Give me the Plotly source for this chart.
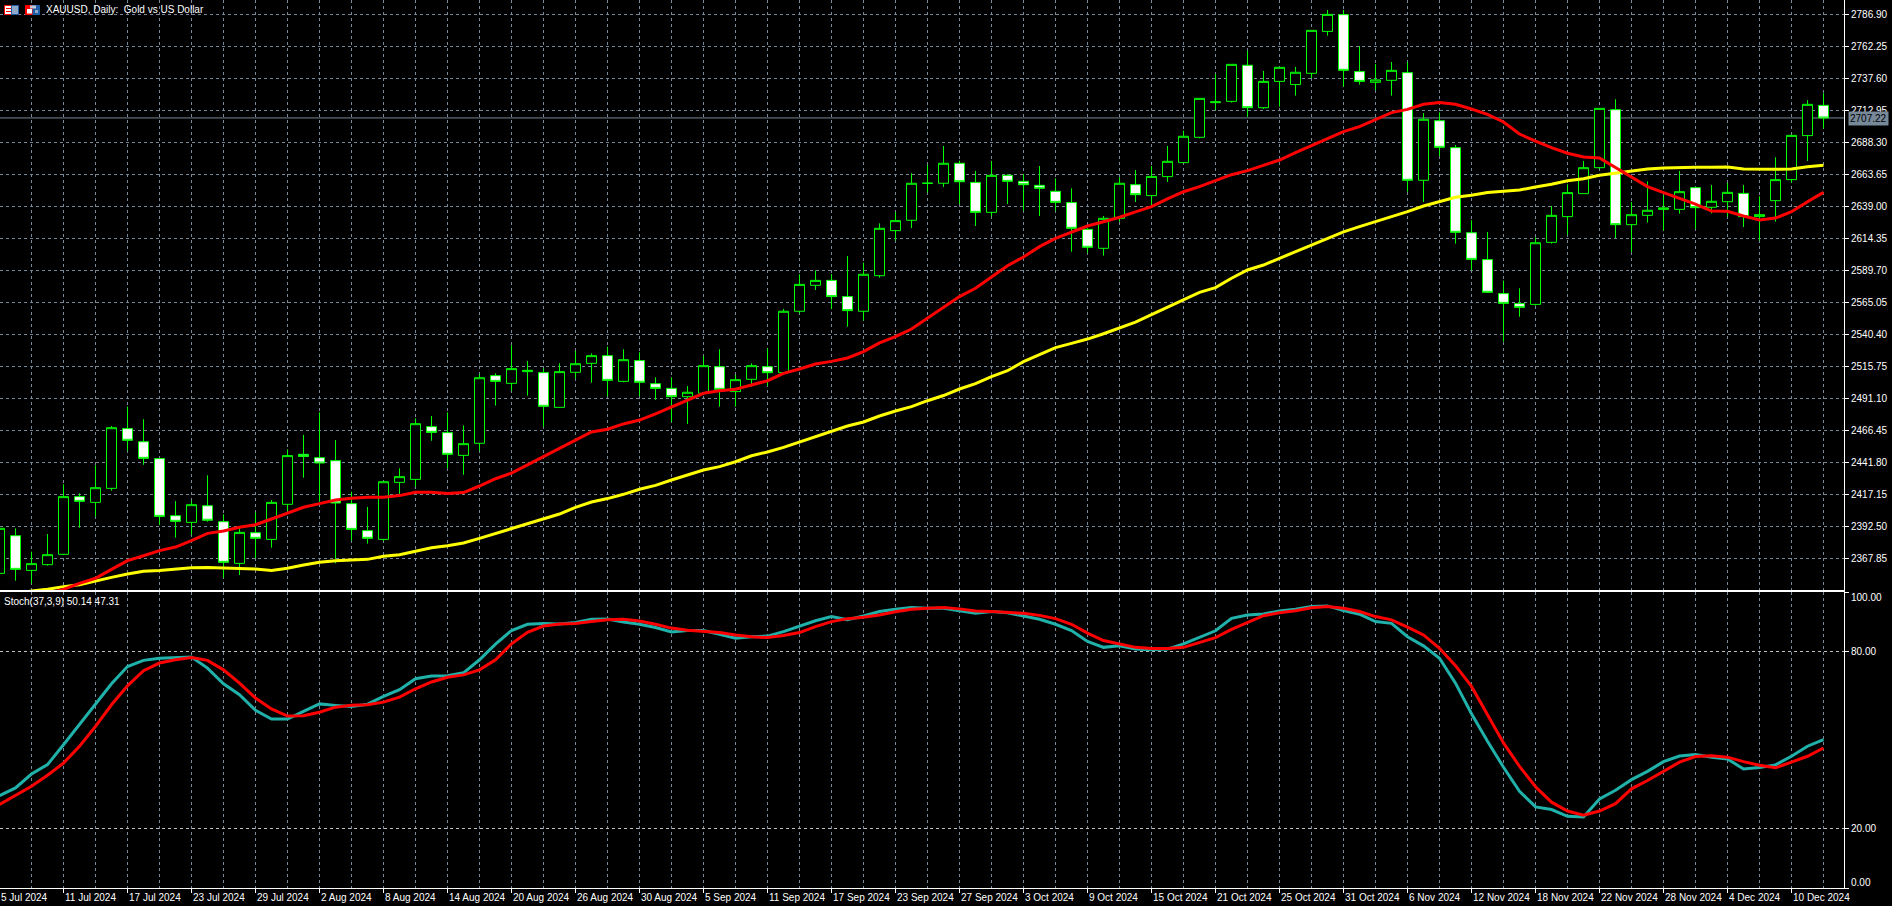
import plotly.graph_objects as go

index = list(range(115))
opens = [2356.4,2385.4,2358.7,2363.1,2371.1,2415.5,2411.1,2421.9,2467.9,2457.8,2444.8,2400.8,2395.7,2408.5,2396.2,2364.1,2387.7,2382.6,2409.6,2448.1,
 2445.5,2443.2,2410.1,2389.3,2382.6,2426.5,2428.8,2469.4,2464.8,2447.3,2456.6,2508.7,2502.8,2511.8,2511.0,2484.3,2511.3,2518.2,2524.1,2504.3,
 2520.3,2502.5,2498.9,2492.5,2495.1,2515.6,2496.4,2505.9,2515.6,2511.0,2558.3,2578.3,2582.1,2569.6,2558.3,2585.7,2620.4,2628.4,2656.7,2656.9,
 2672.3,2657.6,2634.5,2663.0,2658.4,2655.3,2650.7,2642.0,2621.4,2606.8,2629.9,2655.8,2647.4,2662.0,2672.8,2692.3,2719.0,2720.0,2747.8,2715.1,
 2735.4,2732.9,2741.6,2773.9,2786.8,2742.9,2734.7,2736.2,2742.1,2659.2,2705.1,2684.3,2618.8,2598.1,2571.9,2564.2,2563.6,2611.4,2631.2,2648.9,
 2668.9,2713.6,2625.0,2632.2,2636.8,2636.8,2653.5,2638.4,2642.7,2649.1,2631.2,2643.5,2659.7,2693.6,2716.9]
highs = [2392.4,2391.1,2373.1,2386.7,2425.0,2418.0,2439.6,2469.9,2484.8,2475.1,2444.8,2412.1,2412.1,2431.9,2401.9,2391.1,2403.4,2412.9,2451.9,2463.0,
 2480.4,2459.1,2419.3,2407.5,2427.0,2437.3,2475.8,2477.6,2480.4,2470.4,2509.7,2510.5,2532.1,2520.0,2514.3,2518.2,2527.7,2525.9,2531.0,2529.0,
 2526.7,2507.4,2507.4,2500.7,2523.8,2529.0,2509.2,2518.2,2529.8,2560.1,2586.8,2589.8,2587.0,2600.9,2595.7,2626.0,2634.5,2664.6,2671.0,2685.6,
 2674.3,2666.4,2674.1,2663.8,2664.0,2670.2,2660.7,2653.0,2622.2,2631.7,2661.5,2667.1,2670.2,2685.6,2697.4,2722.3,2741.1,2748.5,2758.8,2743.4,
 2746.2,2746.5,2774.7,2790.4,2790.4,2762.6,2748.8,2750.3,2750.3,2711.0,2711.5,2686.4,2628.4,2619.4,2581.9,2576.0,2615.3,2639.4,2656.1,2674.1,
 2714.6,2721.6,2642.5,2658.4,2647.9,2666.4,2654.3,2655.6,2657.1,2655.6,2646.8,2676.9,2693.8,2721.0,2726.2]
lows = [2355.9,2350.8,2348.7,2362.3,2370.5,2391.6,2400.1,2420.1,2450.9,2440.1,2393.7,2383.9,2386.2,2396.2,2353.1,2355.1,2368.0,2376.2,2404.4,2430.1,
 2411.6,2364.1,2381.6,2379.3,2381.3,2417.5,2423.2,2458.6,2437.3,2432.4,2450.9,2485.6,2497.1,2493.3,2469.4,2484.3,2506.6,2503.3,2492.8,2503.6,
 2493.0,2490.0,2473.0,2471.5,2493.8,2484.8,2484.8,2500.2,2501.0,2510.5,2556.7,2574.7,2560.1,2546.4,2551.1,2584.2,2612.7,2622.4,2649.7,2654.0,
 2640.9,2624.0,2631.4,2640.9,2635.8,2631.7,2635.8,2604.2,2603.4,2601.1,2627.3,2642.5,2639.4,2657.9,2672.8,2691.5,2713.3,2719.0,2708.2,2714.1,
 2715.9,2724.4,2737.7,2770.6,2731.3,2732.9,2728.7,2724.4,2650.4,2642.5,2677.9,2610.4,2589.8,2572.9,2534.9,2554.1,2562.6,2610.4,2617.3,2648.9,
 2667.9,2614.7,2604.0,2626.6,2620.4,2633.5,2621.9,2633.7,2631.2,2623.2,2612.7,2627.3,2657.4,2674.1,2699.0]
closes = [2391.1,2359.5,2363.9,2370.8,2415.5,2411.9,2422.4,2468.6,2458.9,2445.0,2400.3,2396.5,2409.3,2397.3,2364.9,2388.0,2383.4,2411.1,2447.1,2446.5,
 2441.4,2410.6,2390.3,2383.4,2427.0,2430.9,2471.7,2465.0,2448.1,2456.3,2507.1,2504.3,2514.1,2512.8,2485.1,2511.8,2517.9,2524.1,2505.1,2521.0,
 2503.6,2498.9,2492.5,2495.9,2516.4,2498.2,2505.6,2516.4,2511.0,2558.3,2579.0,2582.1,2569.6,2558.8,2586.8,2622.2,2628.1,2656.9,2657.0,2672.3,
 2658.1,2634.5,2663.0,2658.4,2655.8,2653.0,2642.2,2622.2,2607.6,2629.9,2656.9,2648.1,2662.2,2673.8,2693.1,2722.3,2719.6,2748.5,2715.1,2735.4,
 2746.2,2742.4,2774.7,2787.0,2743.9,2735.4,2736.5,2743.9,2659.2,2706.2,2684.6,2619.1,2598.3,2572.9,2564.4,2561.3,2611.1,2632.2,2649.7,2668.9,
 2714.6,2625.0,2632.7,2636.1,2637.9,2650.4,2638.1,2643.0,2649.9,2631.2,2632.7,2659.7,2693.8,2717.7,2707.2]

ma_fast = [2325.0,2330.0,2335.0,2341.0,2344.1,2348.7,2352.6,2359.5,2366.2,2370.0,2373.9,2376.7,2381.6,2387.2,2389.0,2391.9,2393.9,2398.3,2402.6,2407.3,
 2410.1,2412.9,2414.2,2415.0,2415.0,2416.3,2418.8,2418.8,2418.0,2418.6,2423.7,2429.3,2433.7,2440.1,2446.8,2452.7,2459.1,2465.3,2467.4,2471.5,
 2474.5,2479.2,2484.3,2489.9,2495.1,2497.1,2498.2,2501.5,2504.8,2510.5,2513.8,2517.7,2519.7,2522.3,2527.2,2533.9,2538.7,2544.6,2552.9,2561.6,
 2569.6,2576.0,2584.4,2593.4,2600.1,2608.1,2614.5,2619.1,2624.0,2627.3,2630.7,2634.8,2638.9,2644.8,2650.4,2654.3,2658.9,2663.5,2666.6,2670.5,
 2674.8,2680.5,2685.9,2691.8,2696.7,2700.5,2706.2,2711.3,2713.8,2717.7,2719.2,2717.7,2714.1,2710.0,2704.1,2694.8,2689.4,2684.3,2680.0,2677.1,
 2676.4,2669.2,2661.5,2654.3,2649.7,2645.6,2640.9,2635.5,2635.3,2631.7,2628.6,2630.1,2635.0,2642.7,2649.9]
ma_slow = [2338.4,2340.5,2342.8,2344.1,2346.2,2347.7,2350.8,2353.3,2355.9,2358.0,2358.7,2359.8,2360.8,2361.0,2360.5,2360.5,2359.8,2358.7,2360.3,2362.8,
 2364.9,2366.2,2366.7,2367.2,2369.5,2370.8,2373.4,2376.2,2377.7,2379.8,2383.4,2387.2,2390.6,2394.9,2398.8,2402.1,2407.3,2411.4,2414.0,2417.3,
 2421.2,2424.2,2428.3,2432.2,2436.0,2438.6,2442.4,2447.0,2449.9,2453.5,2457.6,2462.2,2466.1,2469.9,2473.0,2477.6,2481.5,2484.8,2489.4,2493.4,
 2498.4,2502.5,2507.9,2512.5,2519.5,2525.1,2530.3,2533.6,2536.9,2541.0,2545.4,2550.0,2555.7,2561.3,2567.0,2572.9,2576.5,2583.7,2590.1,2593.9,
 2599.1,2604.2,2609.3,2614.5,2619.4,2623.5,2627.3,2631.7,2635.0,2639.4,2642.7,2646.1,2647.6,2649.7,2650.7,2651.7,2654.0,2656.1,2658.9,2660.4,
 2663.0,2664.8,2666.6,2667.9,2668.7,2669.2,2669.2,2669.2,2669.4,2667.9,2667.6,2667.6,2667.9,2669.7,2670.7]
stoch_main = [31.2,33.8,38.5,41.7,48.4,55.2,61.9,69.0,74.8,76.9,77.6,77.9,78.0,74.3,69.0,65.3,60.0,57.1,57.1,59.7,
 62.2,61.7,61.3,62.1,64.7,67.0,70.7,71.6,71.7,72.7,77.1,82.4,87.0,89.1,89.4,89.2,89.7,90.8,90.9,89.9,
 89.1,88.0,86.5,87.0,87.0,85.7,84.4,84.9,85.1,86.6,88.5,90.3,91.7,90.6,91.9,93.4,94.2,94.8,94.5,94.5,
 93.7,92.8,93.4,93.0,91.9,90.8,89.1,87.0,83.3,81.3,81.8,80.7,80.5,80.7,82.5,84.6,86.9,91.1,92.2,92.6,
 93.6,94.2,95.1,95.3,93.7,92.5,90.0,89.4,84.9,81.8,77.6,69.2,58.9,49.6,40.8,32.7,27.4,26.5,24.2,24.0,
 30.1,33.0,36.6,39.4,42.7,44.6,45.1,44.2,43.6,40.2,40.7,41.6,44.5,47.9,50.14]
stoch_signal = [28.2,31.3,34.4,38.1,42.2,47.9,54.6,61.9,68.3,73.4,76.0,77.1,77.9,76.9,73.7,69.2,64.2,60.5,58.1,58.2,
 59.4,61.1,61.7,61.9,62.8,64.5,67.3,69.6,71.2,72.0,73.7,77.1,82.5,86.4,88.5,89.2,89.4,90.0,90.6,90.8,
 90.2,89.1,87.8,87.1,86.7,86.3,85.5,84.9,84.6,85.3,86.3,88.3,90.0,91.0,91.5,92.2,93.3,94.2,94.5,94.8,
 94.3,93.6,93.4,93.1,92.8,92.1,91.0,89.1,86.1,83.6,82.5,81.3,80.9,80.9,81.3,83.0,84.6,87.4,89.8,92.0,
 93.0,93.7,94.7,95.1,94.5,93.4,91.7,90.6,88.1,85.5,81.0,75.1,68.1,58.5,49.0,41.1,34.2,29.0,26.0,24.6,
 26.0,28.5,33.5,36.3,39.4,42.5,44.4,44.7,44.2,42.7,41.5,40.6,42.5,44.5,47.31]

date_ticks = list(range(0, 115, 4))
date_labels = ["5 Jul 2024","11 Jul 2024","17 Jul 2024","23 Jul 2024","29 Jul 2024","2 Aug 2024","8 Aug 2024","14 Aug 2024",
 "20 Aug 2024","26 Aug 2024","30 Aug 2024","5 Sep 2024","11 Sep 2024","17 Sep 2024","23 Sep 2024","27 Sep 2024","3 Oct 2024",
 "9 Oct 2024","15 Oct 2024","21 Oct 2024","25 Oct 2024","31 Oct 2024","6 Nov 2024","12 Nov 2024","18 Nov 2024","22 Nov 2024",
 "28 Nov 2024","4 Dec 2024","10 Dec 2024"]
price_ticks = [2367.85,2392.50,2417.15,2441.80,2466.45,2491.10,2515.75,2540.40,2565.05,2589.70,2614.35,2639.00,2663.65,2688.30,2712.95,2737.60,2762.25,2786.90]
stoch_ticks = [0, 20, 80, 100]
last_price = 2707.22

W, H, L_AXIS, B = 1892, 906, 1844, 888
SLATE = "#778899"
LIME = "#00FF00"
FONT = "Liberation Sans"
TXT = dict(family=FONT, size=10, color="white")

def fx(px):
    return px / L_AXIS

def fy(px):
    return 1 - px / B

fig = go.Figure()
fig.add_trace(go.Candlestick(
    x=index, open=opens, high=highs, low=lows, close=closes, whiskerwidth=0,
    increasing=dict(line=dict(color=LIME, width=1), fillcolor="black"),
    decreasing=dict(line=dict(color=LIME, width=1), fillcolor="white"),
    xaxis="x", yaxis="y", showlegend=False))
fig.add_trace(go.Scatter(x=index, y=ma_slow, mode="lines", line=dict(color="#FFFF00", width=3), xaxis="x", yaxis="y", showlegend=False))
fig.add_trace(go.Scatter(x=index, y=ma_fast, mode="lines", line=dict(color="#FF0000", width=3), xaxis="x", yaxis="y", showlegend=False))
fig.add_trace(go.Scatter(x=index, y=stoch_main, mode="lines", line=dict(color="#20B2AA", width=3), xaxis="x2", yaxis="y2", showlegend=False))
fig.add_trace(go.Scatter(x=index, y=stoch_signal, mode="lines", line=dict(color="#FF0000", width=3), xaxis="x2", yaxis="y2", showlegend=False))

x_range = [0.03125, 115.28125]
grid = dict(showgrid=True, gridcolor=SLATE, gridwidth=1, griddash="3px,3px", zeroline=False)
even = list(range(0, 116, 2))
mid = [v for v in even if v % 4]

annotations = [
    dict(xref="paper", yref="paper", x=fx(45), y=fy(9.5), text="XAUUSD, Daily:  Gold vs US Dollar", showarrow=False,
         xanchor="left", yanchor="middle", font=TXT, borderpad=0),
    dict(xref="paper", yref="paper", x=fx(3), y=fy(601.5), text="Stoch(37,3,9) 50.14 47.31", showarrow=False,
         xanchor="left", yanchor="middle", font=TXT, borderpad=0),
    dict(xref="paper", yref="paper", x=fx(1848), y=fy(118.5), text="%.2f" % last_price, showarrow=False, xanchor="left",
         yanchor="middle", bgcolor=SLATE, font=dict(family=FONT, size=10, color="black"), borderpad=1),
    dict(xref="paper", yref="y2", x=fx(1850), y=100, yshift=-5, text="100.00", showarrow=False, xanchor="left",
         yanchor="middle", font=TXT, borderpad=0),
    dict(xref="paper", yref="y2", x=fx(1850), y=0, yshift=6, text="0.00", showarrow=False, xanchor="left",
         yanchor="middle", font=TXT, borderpad=0),
]
for i, label in zip(date_ticks, date_labels):
    annotations.append(dict(xref="paper" if i == 0 else "x2", yref="paper", x=0 if i == 0 else i, y=0, yshift=-3,
                            text=label, showarrow=False, xanchor="left", yanchor="top", font=TXT, borderpad=0))

def rect(x0, y0, x1, y1, color, line=None):
    return dict(type="rect", xref="paper", yref="paper", x0=fx(x0), x1=fx(x1), y0=fy(y0), y1=fy(y1), fillcolor=color,
                line=dict(width=1 if line else 0, color=line or color), layer="above")

shapes = [
    dict(type="line", xref="paper", yref="y", x0=0, x1=1, y0=last_price, y1=last_price,
         line=dict(color=SLATE, width=1), layer="below"),
    rect(4.5, 5.5, 18.5, 14.5, "white", "#FF0000"),
    rect(11.5, 5.5, 18.5, 14.5, "#8FA8C8", "#1C5FA8"),
    rect(6, 8, 11, 9, "#FF0000"), rect(6, 11, 11, 12, "#FF0000"),
    rect(25.5, 5.5, 39.5, 14.5, "#1C5FA8", "#1C5FA8"),
    rect(25.5, 5.5, 32, 14.5, "#FF0000", "#FF0000"),
    rect(27, 9, 32, 13.5, "white"), rect(30, 5.5, 36, 8.5, "#C0C8D8"), rect(35, 10, 38, 13, "#8FA8C8"),
]

fig.update_layout(
    width=W, height=H, margin=dict(l=0, r=W - L_AXIS, t=0, b=H - B), paper_bgcolor="black", plot_bgcolor="black",
    showlegend=False, annotations=annotations, shapes=shapes, hovermode=False, boxgap=0.375, boxgroupgap=0,
    xaxis=dict(domain=[0, 1], range=x_range, anchor="y", rangeslider=dict(visible=False), showticklabels=False,
               tickmode="array", tickvals=even, ticks="", showline=True, linecolor="white", linewidth=1, **grid),
    yaxis=dict(domain=[298 / B, 1], range=[2343.59, 2798.07], anchor="x", side="right", tickmode="array",
               tickvals=price_ticks, ticktext=["%.2f" % v for v in price_ticks], ticks="outside", ticklen=4,
               tickcolor="white", tickfont=TXT, showline=True, linecolor="white", linewidth=1, **grid),
    xaxis2=dict(domain=[0, 1], range=x_range, anchor="y2", showticklabels=False, tickmode="array", tickvals=date_ticks,
                ticks="outside", ticklen=4, tickcolor="white", showline=True, mirror=True, linecolor="white", linewidth=1,
                minor=dict(tickmode="array", tickvals=mid, showgrid=True, gridcolor=SLATE, griddash="3px,3px", gridwidth=1, ticks=""),
                **grid),
    yaxis2=dict(domain=[0, 296 / B], range=[0, 100], anchor="x2", side="right", tickmode="array", tickvals=stoch_ticks,
                ticktext=["", "20.00", "80.00", ""], ticks="outside", ticklen=4, tickcolor="white", tickfont=TXT,
                showline=True, linecolor="white", linewidth=1, showgrid=True, gridcolor="#C0C0C0", gridwidth=1,
                griddash="3px,3px", zeroline=False),
)

fig.write_html("out.html", config=dict(displayModeBar=False),
               post_script="document.body.style.margin='0';document.body.style.background='black';document.body.style.overflow='hidden';")
